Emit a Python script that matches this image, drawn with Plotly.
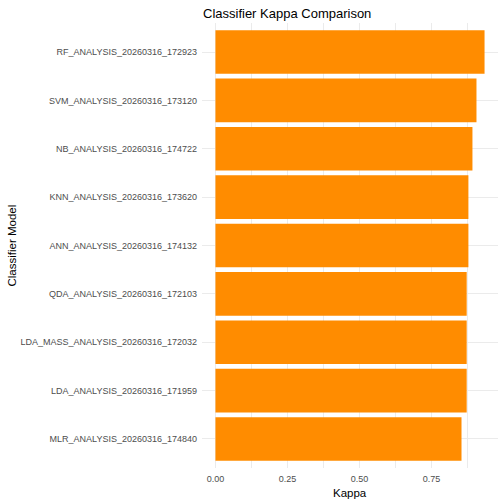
import plotly.graph_objects as go

# Kappa per classifier, top of chart first
models = [
    "RF_ANALYSIS_20260316_172923",
    "SVM_ANALYSIS_20260316_173120",
    "NB_ANALYSIS_20260316_174722",
    "KNN_ANALYSIS_20260316_173620",
    "ANN_ANALYSIS_20260316_174132",
    "QDA_ANALYSIS_20260316_172103",
    "LDA_MASS_ANALYSIS_20260316_172032",
    "LDA_ANALYSIS_20260316_171959",
    "MLR_ANALYSIS_20260316_174840",
]
kappa = [0.934, 0.906, 0.892, 0.878, 0.878, 0.872, 0.872, 0.872, 0.854]

x_ticks = [0.0, 0.25, 0.5, 0.75]
x_tick_labels = ["0.00", "0.25", "0.50", "0.75"]

font_family = "Liberation Sans, Arial, sans-serif"
grid = "#EBEBEB"

fig = go.Figure(
    go.Bar(
        x=kappa,
        y=models,
        orientation="h",
        marker=dict(color="#FF8C00", line=dict(width=0)),
        width=0.9,
    )
)

xmax = max(kappa)
pad = xmax * 0.05

fig.update_layout(
    width=504,
    height=504,
    margin=dict(l=202, r=6, t=23, b=36, autoexpand=False),
    plot_bgcolor="white",
    paper_bgcolor="white",
    font=dict(family=font_family, color="#4D4D4D", size=9),
    title=dict(
        text="Classifier Kappa Comparison",
        x=203 / 504,
        xref="container",
        xanchor="left",
        y=1 - 13 / 504,
        yref="container",
        yanchor="middle",
        font=dict(size=13, color="black", family=font_family),
    ),
    showlegend=False,
    bargap=0.1,
)

fig.update_xaxes(
    range=[-pad, xmax + pad],
    tickvals=x_ticks,
    ticktext=x_tick_labels,
    showgrid=True,
    gridcolor=grid,
    gridwidth=1,
    zeroline=False,
    showline=False,
    ticks="",
    automargin=False,
    ticklabelstandoff=4,
    tickfont=dict(size=9, color="#4D4D4D"),
    minor=dict(tickvals=[0.125, 0.375, 0.625, 0.875], showgrid=True, gridcolor=grid, gridwidth=0.6),
    fixedrange=True,
)

fig.update_yaxes(
    categoryorder="array",
    categoryarray=models[::-1],
    range=[-0.6, len(models) - 0.4],
    showgrid=True,
    gridcolor=grid,
    gridwidth=1,
    zeroline=False,
    showline=False,
    ticks="",
    automargin=False,
    ticklabelstandoff=4,
    tickfont=dict(size=9, color="#4D4D4D"),
)

# axis titles placed like ggplot
fig.add_annotation(
    text="Kappa", xref="paper", yref="paper", x=0.5, y=0, yshift=-25,
    showarrow=False, font=dict(size=11.5, color="black"), yanchor="middle",
)
fig.add_annotation(
    text="Classifier Model", xref="paper", yref="paper", x=0, xshift=-191, y=0.5,
    textangle=-90, showarrow=False, font=dict(size=11.5, color="black"), xanchor="center",
)

# drop the browser's default body margin so the figure sits at the page corner
fig.write_html(
    "out.html",
    config={"displayModeBar": False},
    post_script="document.body.style.margin='0';",
)
